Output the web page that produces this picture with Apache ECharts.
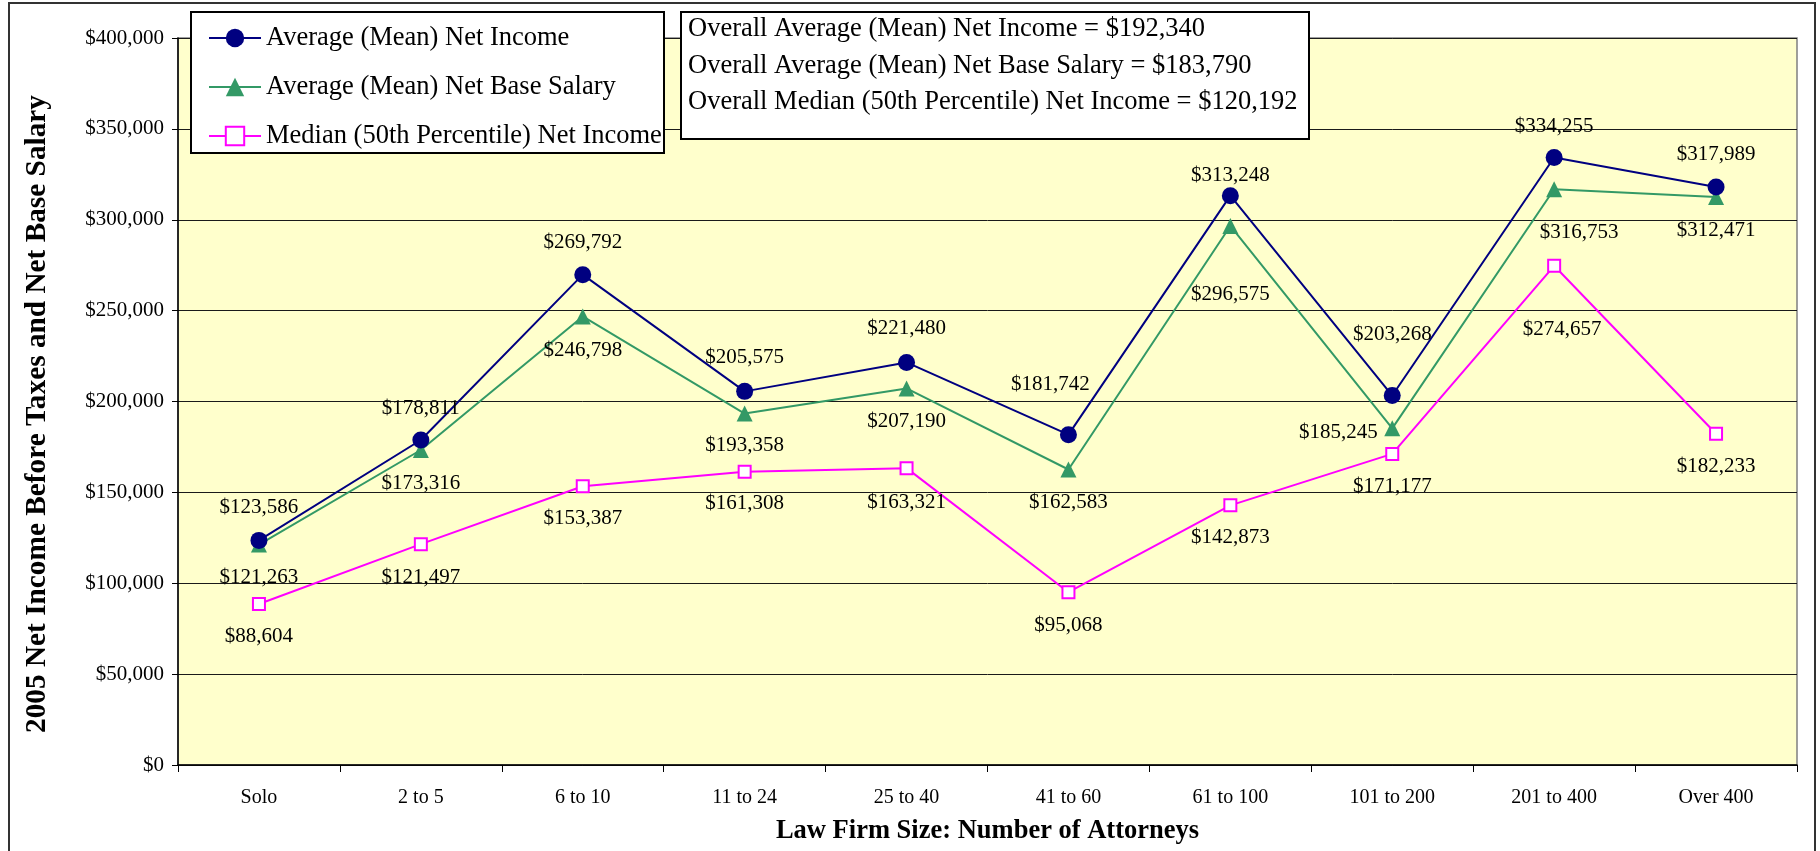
<!DOCTYPE html>
<html>
<head>
<meta charset="utf-8">
<script src="https://cdn.jsdelivr.net/npm/echarts@6/dist/echarts.min.js"></script>
<style>
  html, body { margin: 0; padding: 0; background: #fff; }
  #chart { width: 1820px; height: 851px; }
</style>
</head>
<body>
<div id="chart"></div>
<script>
var categories = ['Solo', '2 to 5', '6 to 10', '11 to 24', '25 to 40', '41 to 60', '61 to 100', '101 to 200', '201 to 400', 'Over 400'];
var meanIncome = [123586, 178811, 269792, 205575, 221480, 181742, 313248, 203268, 334255, 317989];
var meanBase = [121263, 173316, 246798, 193358, 207190, 162583, 296575, 185245, 316753, 312471];
var medianIncome = [88604, 121497, 153387, 161308, 163321, 95068, 142873, 171177, 274657, 182233];
var summaryLines = [
    'Overall Average (Mean) Net Income = $192,340',
    'Overall Average (Mean) Net Base Salary = $183,790',
    'Overall Median (50th Percentile) Net Income = $120,192'
];

// where each value label sits relative to its marker (px)
var meanShift = [[0, -33], [0, -32], [0, -32], [0, -34], [0, -34], [-18, -50], [0, -20], [0, -61], [0, -31], [0, -33]];
var baseShift = [[0, 33], [0, 33], [0, 34], [0, 32], [0, 33], [0, 33], [0, 69], [-54, 4], [25, 43], [0, 33]];
var medianShift = [[0, 33], [0, 33], [0, 32], [0, 32], [0, 34], [0, 33], [0, 32], [0, 33], [8, 64], [0, 33]];

var FONT = "'Liberation Serif', 'Times New Roman', serif";

function money(v) {
    return '$' + String(v).replace(/\B(?=(\d{3})+(?!\d))/g, ',');
}

function withLabels(values, shifts) {
    var out = [];
    for (var i = 0; i < values.length; i++) {
        out.push({value: values[i], label: {offset: shifts[i]}});
    }
    return out;
}

var labelStyle = {
    show: true,
    position: 'inside',
    color: '#000',
    fontFamily: FONT,
    fontSize: 21,
    formatter: function (p) { return money(p.value); }
};

var chart = echarts.init(document.getElementById('chart'));

// the three "overall" lines in the box at the top
var summaryTexts = [];
for (var i = 0; i < summaryLines.length; i++) {
    summaryTexts.push({
        type: 'text',
        x: 688,
        y: 29 + i * 36.6,
        z: 11,
        style: {text: summaryLines[i], fill: '#000', font: '26.5px ' + FONT, verticalAlign: 'middle'}
    });
}

var option = {
    animation: false,
    textStyle: {fontFamily: FONT},
    grid: {
        left: 178, right: 23, top: 38, bottom: 86,
        show: true,
        backgroundColor: '#FFFFCC',
        borderColor: '#808080',
        borderWidth: 1.5
    },
    legend: {
        orient: 'vertical',
        left: 203,
        top: 19,
        z: 20,
        itemWidth: 52,
        itemHeight: 23,
        itemGap: 21,
        textStyle: {fontFamily: FONT, fontSize: 26.5, color: '#000', lineHeight: 28},
        data: ['Average (Mean) Net Income', 'Average (Mean) Net Base Salary', 'Median (50th Percentile) Net Income']
    },
    xAxis: {
        type: 'category',
        data: categories,
        boundaryGap: true,
        name: 'Law Firm Size: Number of Attorneys',
        nameLocation: 'middle',
        nameGap: 53,
        nameTextStyle: {fontFamily: FONT, fontSize: 26.5, fontWeight: 'bold', color: '#000'},
        axisLine: {lineStyle: {color: '#000', width: 1.5}},
        axisTick: {show: true, length: 7, lineStyle: {color: '#000'}},
        axisLabel: {color: '#000', fontFamily: FONT, fontSize: 20, margin: 23}
    },
    yAxis: {
        type: 'value',
        min: 0,
        max: 400000,
        interval: 50000,
        axisLine: {show: true, lineStyle: {color: '#000', width: 1.5}},
        axisTick: {show: true, length: 6, lineStyle: {color: '#000'}},
        axisLabel: {color: '#000', fontFamily: FONT, fontSize: 21, margin: 14, formatter: money},
        splitLine: {lineStyle: {color: '#1a1a1a', width: 1}}
    },
    graphic: [
        {
            type: 'rect', z: 10,
            shape: {x: 191, y: 12, width: 473, height: 141},
            style: {fill: '#fff', stroke: '#000', lineWidth: 2}
        },
        {
            type: 'rect', z: 10,
            shape: {x: 681, y: 12, width: 628, height: 127},
            style: {fill: '#fff', stroke: '#000', lineWidth: 2}
        },
        {
            type: 'rect', z: 0,
            shape: {x: 9, y: 3, width: 1806, height: 870},
            style: {fill: 'none', stroke: '#333', lineWidth: 2}
        },
        {
            // y axis title, sits a little below the plot's middle like the original
            type: 'text', z: 5,
            x: 37, y: 414,
            rotation: Math.PI / 2,
            style: {
                text: '2005 Net Income Before Taxes and Net Base Salary',
                fill: '#000',
                font: 'bold 29.3px ' + FONT,
                align: 'center',
                verticalAlign: 'middle'
            }
        }
    ].concat(summaryTexts),
    series: [
        {
            name: 'Average (Mean) Net Income',
            type: 'line',
            data: withLabels(meanIncome, meanShift),
            symbol: 'circle',
            symbolSize: 17,
            itemStyle: {color: '#000080'},
            lineStyle: {color: '#000080', width: 2},
            label: labelStyle,
            z: 4
        },
        {
            name: 'Average (Mean) Net Base Salary',
            type: 'line',
            data: withLabels(meanBase, baseShift),
            symbol: 'triangle',
            symbolSize: 16,
            itemStyle: {color: '#339966'},
            lineStyle: {color: '#339966', width: 2},
            label: labelStyle,
            z: 3
        },
        {
            name: 'Median (50th Percentile) Net Income',
            type: 'line',
            data: withLabels(medianIncome, medianShift),
            symbol: 'rect',
            symbolSize: 12,
            itemStyle: {color: '#fff', borderColor: '#FF00FF', borderWidth: 2},
            lineStyle: {color: '#FF00FF', width: 2},
            label: labelStyle,
            z: 2
        }
    ]
};

chart.setOption(option);
</script>
</body>
</html>
